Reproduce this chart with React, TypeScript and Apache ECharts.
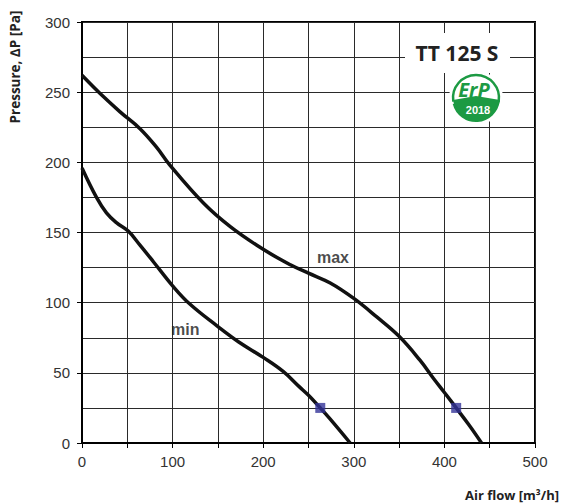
import React, { useEffect, useRef } from "react";
import * as echarts from "echarts";

const maxCurve: [number, number][] = [
  [0, 262], [20, 249], [42, 236], [64, 224], [82, 211], [97, 198], [134, 171],
  [164, 154], [200, 138], [230, 127], [250, 121], [274, 114], [300, 103],
  [325, 90], [350, 76], [373, 59], [388, 46], [400, 36], [413, 25], [427, 13], [441, 0],
];
const minCurve: [number, number][] = [
  [0, 196], [16, 175], [27, 164], [38, 157], [51, 151], [64, 141], [79, 129],
  [100, 112], [119, 99], [150, 83], [173, 72], [200, 61], [222, 51], [240, 40],
  [250, 34], [263, 25], [274, 17], [296, 0],
];
const workPoints: [number, number][] = [[263, 25], [413, 25]];
const curveLabels = [
  { name: "max", at: [277, 132] as [number, number] },
  { name: "min", at: [114, 81] as [number, number] },
];
const titleText = "TT 125 S";
const yAxisTitle = "Pressure, \u2206P [Pa]";
const xAxisTitle = "Air flow [m\u00B3/h]";

export default function App() {
  const ref = useRef<HTMLDivElement>(null);
  useEffect(() => {
    if (!ref.current) return;
    const chart = echarts.init(ref.current, undefined, { renderer: "svg" });
    const green = "#1c9a43";
    chart.setOption({
      animation: false,
      backgroundColor: "#fff",
      grid: {
        left: 82, top: 22, right: 26, bottom: 61,
        show: true, borderColor: "#000", borderWidth: 2, backgroundColor: "transparent",
      },
      xAxis: {
        type: "value", min: 0, max: 500, interval: 50,
        axisLine: { show: true, lineStyle: { color: "#000", width: 2 } },
        axisTick: { show: true, length: 5, lineStyle: { color: "#000" } },
        axisLabel: {
          margin: 11, fontSize: 15, color: "#333", fontFamily: "Liberation Sans, Arial, sans-serif",
          formatter: (v: number) => (v % 100 === 0 ? String(v) : ""),
        },
        splitLine: { show: true, lineStyle: { color: "#2a2a2a", width: 1 } },
      },
      yAxis: {
        type: "value", min: 0, max: 300, interval: 50,
        axisLine: { show: true, lineStyle: { color: "#000", width: 2 } },
        axisTick: { show: true, length: 5, lineStyle: { color: "#000" } },
        minorTick: { show: false, splitNumber: 2 },
        minorSplitLine: { show: true, lineStyle: { color: "#2a2a2a", width: 1 } },
        axisLabel: {
          margin: 12, fontSize: 15, color: "#333", fontFamily: "Liberation Sans, Arial, sans-serif",
        },
        splitLine: { show: true, lineStyle: { color: "#2a2a2a", width: 1 } },
      },
      series: [
        {
          type: "line", data: maxCurve, smooth: 0.4, showSymbol: false,
          lineStyle: { color: "#111", width: 3.5 }, z: 3,
        },
        {
          type: "line", data: minCurve, smooth: 0.4, showSymbol: false,
          lineStyle: { color: "#111", width: 3.5 }, z: 3,
        },
        {
          type: "scatter", data: workPoints, symbol: "rect", symbolSize: 10,
          itemStyle: { color: "#333399" }, z: 5,
        },
        {
          type: "scatter", symbolSize: 0, z: 6,
          data: curveLabels.map((l) => ({ value: l.at, name: l.name })),
          label: {
            show: true, position: "inside", formatter: (p: any) => p.name,
            fontSize: 16, fontWeight: "bold", color: "#1a1a1a",
            fontFamily: "Liberation Sans, Arial, sans-serif",
          },
        },
      ],
      graphic: [
        {
          type: "rect", z: 10,
          shape: { x: 405, y: 33, width: 105, height: 40 },
          style: { fill: "#fff" },
        },
        {
          type: "text", z: 11, x: 457, y: 53,
          style: {
            text: titleText, fill: "#222", fontSize: 21, fontWeight: "bold",
            fontFamily: "Open Sans, Noto Sans, sans-serif", align: "center", verticalAlign: "middle",
          },
        },
        { type: "circle", z: 10, shape: { cx: 476, cy: 98, r: 27 }, style: { fill: "#fff" } },
        {
          type: "arc", z: 11, shape: { cx: 476, cy: 98, r: 23, startAngle: Math.PI * 0.95, endAngle: Math.PI * 0.05, clockwise: true },
          style: { stroke: green, lineWidth: 2.5, fill: "none" },
        },
        {
          type: "sector", z: 11,
          shape: { cx: 476, cy: 98, r: 24, r0: 0, startAngle: 0.12, endAngle: Math.PI - 0.25, clockwise: true },
          style: { fill: green },
        },
        {
          type: "polygon", z: 11,
          shape: { points: [[453, 100], [476, 96], [500, 100], [499, 104], [454, 104]] },
          style: { fill: green },
        },
        {
          type: "text", z: 12, x: 474, y: 89,
          style: {
            text: "ErP", fill: green, fontSize: 20, fontWeight: "bold", fontStyle: "italic",
            fontFamily: "Open Sans, Noto Sans, sans-serif", align: "center", verticalAlign: "middle",
          },
        },
        {
          type: "text", z: 12, x: 478, y: 110,
          style: {
            text: "2018", fill: "#fff", fontSize: 11, fontWeight: "bold",
            fontFamily: "Liberation Sans Narrow, Liberation Sans, sans-serif", align: "center", verticalAlign: "middle",
          },
        },
        {
          type: "text", x: 15, y: 67, rotation: Math.PI / 2,
          style: {
            text: yAxisTitle, fill: "#222", fontSize: 13.5, fontWeight: "bold",
            fontFamily: "Open Sans, Noto Sans, sans-serif", align: "center", verticalAlign: "middle",
          },
        },
        {
          type: "text", x: 559, y: 495,
          style: {
            text: xAxisTitle, fill: "#222", fontSize: 13, fontWeight: "bold",
            fontFamily: "Open Sans, Noto Sans, sans-serif", align: "right", verticalAlign: "middle",
          },
        },
      ],
    });
    return () => chart.dispose();
  }, []);
  return <div ref={ref} style={{ width: 561, height: 504, position: "absolute", left: 0, top: 0 }} />;
}
